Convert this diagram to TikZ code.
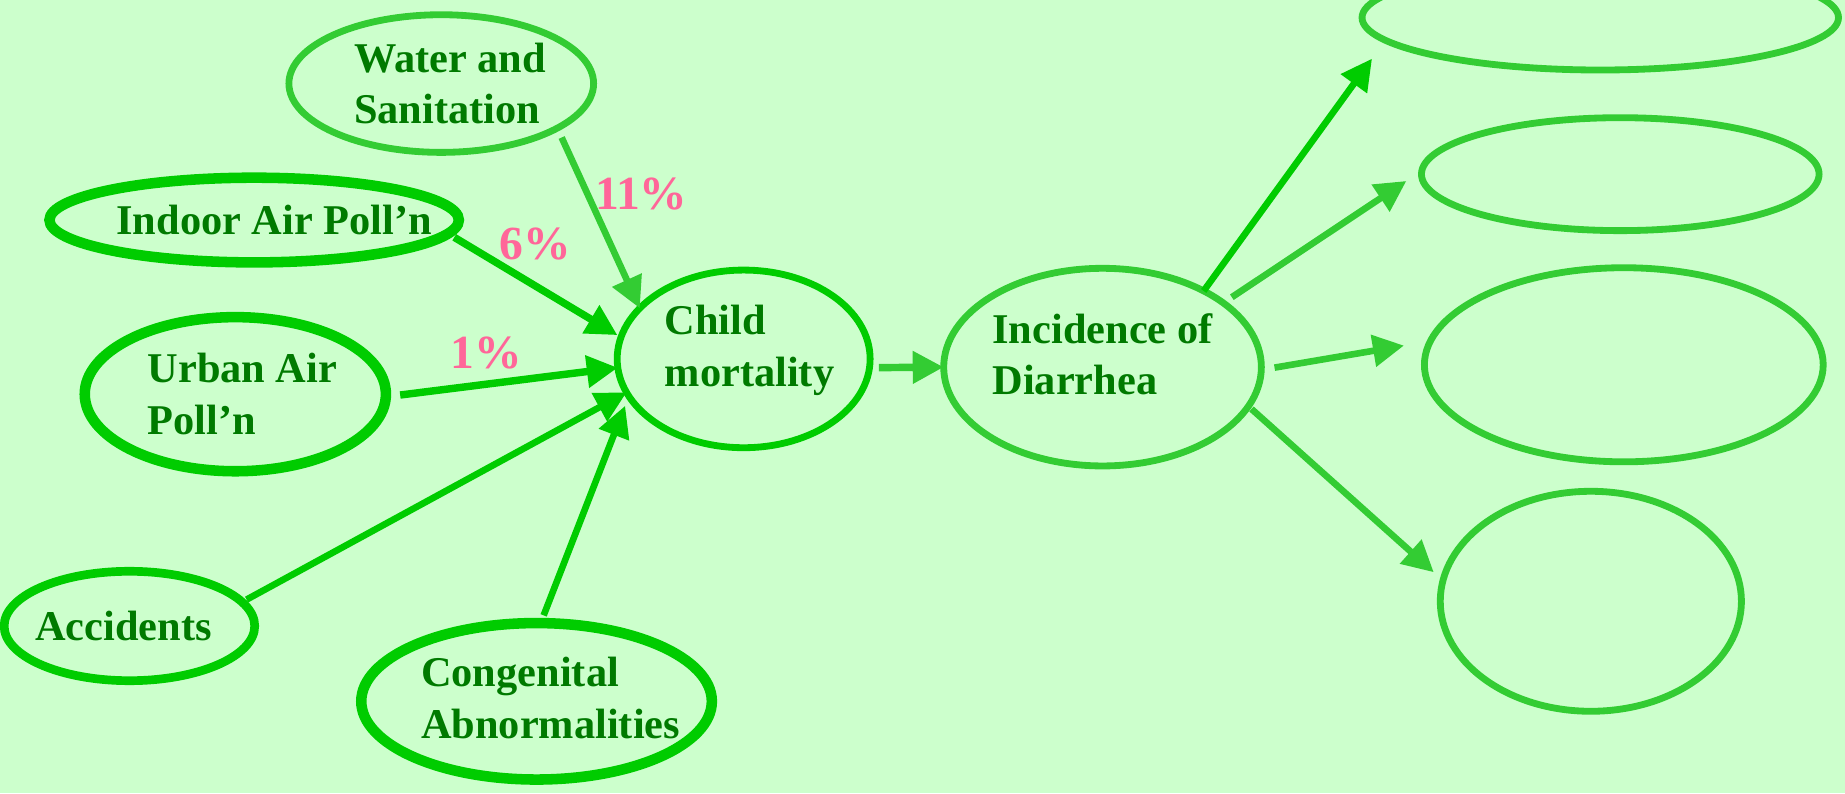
\documentclass[tikz,border=0pt]{standalone}
\usepackage{fontspec}
\setmainfont{Liberation Serif}
\usetikzlibrary{shapes.geometric,arrows.meta}

\definecolor{bgreen}{RGB}{0,204,0}
\definecolor{lgreen}{RGB}{51,204,51}
\definecolor{tgreen}{RGB}{0,122,0}
\definecolor{pinky}{RGB}{255,102,153}
\definecolor{paper}{RGB}{204,255,204}

\begin{document}
\begin{tikzpicture}[x=0.02cm,y=-0.02cm,
		blob/.style={ellipse,draw,inner sep=0pt,outer sep=0pt},
		thinblob/.style={blob,line width=3.3pt,draw=lgreen},
		midblob/.style={blob,line width=4.2pt,draw=bgreen},
		fatblob/.style={blob,line width=5.1pt,draw=bgreen},
		txt/.style={align=left,text=tgreen,font=\fontsize{20.5}{25}\selectfont\bfseries},
		pct/.style={text=pinky,font=\fontsize{23}{27}\selectfont\bfseries},
		link/.style={-{Triangle[length=15pt,width=15pt]},line width=3.2pt}]
			%					\draw[help lines, color=black!50, step=100,very thin](0,0)grid(1568,674);
			
			\useasboundingbox (0,0) rectangle (1568,674);
			\fill [paper](0,0) rectangle (1568,674);
			\clip (0,0) rectangle (1568,674);
			
			\node (water) at (375,71) [thinblob, minimum width=5.18cm, minimum height=2.34cm,
				label={[txt,xshift=0.15cm]center:Water and\\Sanitation}] {};
			\node (indoor) at (216,187) [fatblob, minimum width=6.96cm, minimum height=1.44cm,
				label={[txt,xshift=0.34cm]center:Indoor Air Poll'n}] {};
			\node (urban) at (200,335) [fatblob, minimum width=5.12cm, minimum height=2.62cm,
				label={[txt,xshift=0.12cm]center:Urban Air\\Poll'n}] {};
			\node (accidents) at (110,532) [midblob, minimum width=4.26cm, minimum height=1.86cm,
				label={[txt,xshift=-0.1cm]center:Accidents}] {};
			\node (congenital) at (456,596) [fatblob, minimum width=5.96cm, minimum height=2.66cm,
				label={[txt,xshift=0.24cm,yshift=0.06cm]center:Congenital\\Abnormalities}] {};
			
			\node (child) at (632,305) [thinblob, draw=bgreen, minimum width=4.3cm, minimum height=3.02cm,
				label={[txt,xshift=0.1cm,yshift=0.15cm]center:Child\\mortality}] {};
			\node (diarrhea) at (937,312) [thinblob, minimum width=5.4cm, minimum height=3.36cm,
				label={[txt,yshift=0.22cm]center:Incidence of\\Diarrhea}] {};
			
			\node (outa) at (1360,15) [thinblob, minimum width=8.1cm, minimum height=1.78cm] {};
			\node (outb) at (1377,148) [thinblob, minimum width=6.76cm, minimum height=1.92cm] {};
			\node (outc) at (1380,310) [thinblob, minimum width=6.78cm, minimum height=3.3cm] {};
			\node (outd) at (1352,511) [thinblob, minimum width=5.12cm, minimum height=3.74cm] {};
			
			\draw [link, color=lgreen, shorten <=5pt](water.339)--(child.154);
			\draw [link, color=bgreen, line width=3.6pt, shorten <=3.5pt, shorten >=2pt](indoor.356)--(child.170);
			\draw [link, color=bgreen, line width=3.6pt, shorten <=7pt](urban.359)--(child.184);
			\draw [link, color=bgreen, shorten <=2.5pt](accidents.12)--(child.196);
			\draw [link, color=bgreen, shorten <=4pt, shorten >=5pt](congenital.87)--(child.198);
			\node (p11) at (545,165) [pct]{11\%};
			\node (p6) at (455,207) [pct]{6\%};
			\node (p1) at (413,300) [pct]{1\%};
			
			\draw [link, color=lgreen, line width=3.6pt, shorten <=4.5pt](child.356)--(diarrhea.180);
			
			\draw [link, color=bgreen, shorten >=11pt](diarrhea.37)--(outa.186);
			\draw [link, color=lgreen, shorten <=5pt, shorten >=9pt](diarrhea.28)--(outb.179);
			\draw [link, color=lgreen, shorten <=6.5pt, shorten >=13pt](diarrhea.359)--(outc.173);
			\draw [link, color=lgreen, shorten <=2pt, shorten >=6pt](diarrhea.345)--(outd.172);
			
		\end{tikzpicture}
\end{document}
